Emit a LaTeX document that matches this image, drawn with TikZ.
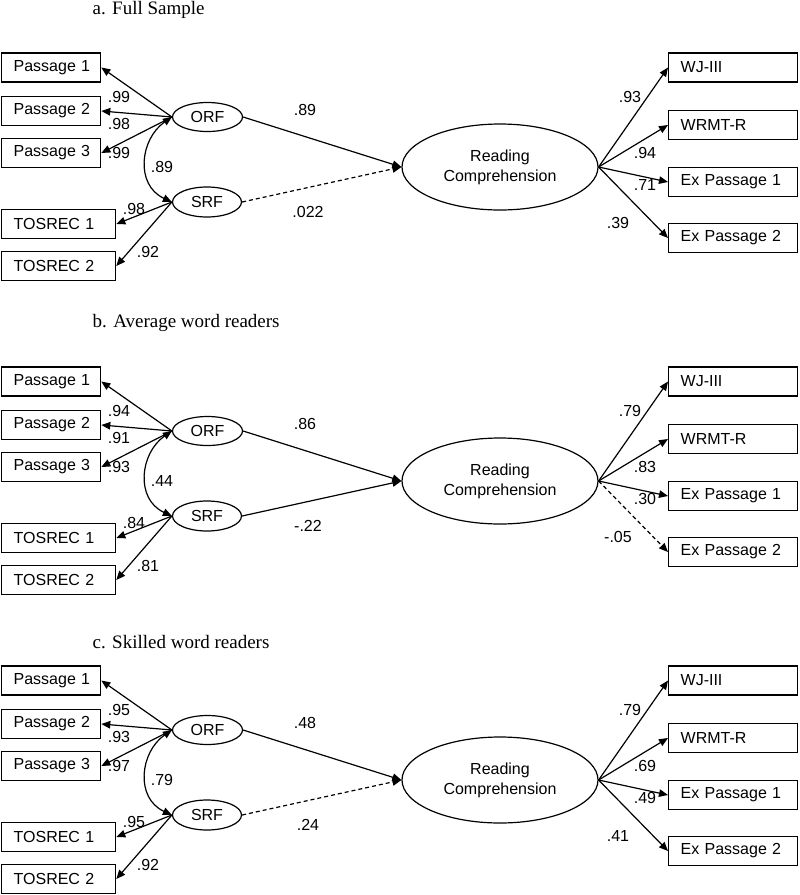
\documentclass[tikz,border=0pt]{standalone}
\usepackage{fontspec}
\setmainfont{Liberation Sans}
\newfontfamily\titlefont{Liberation Serif}
\usetikzlibrary{arrows.meta,shapes.geometric}

\newcommand\panelnodes[1]{%
  \node[box=79pt] (#1P1) at (1,67.5) {Passage 1};
  \node[box=79pt] (#1P2) at (1,111) {Passage 2};
  \node[box=79pt] (#1P3) at (1,153) {Passage 3};
  \node[box=94pt] (#1T1) at (1,224) {TOSREC 1};
  \node[box=94pt] (#1T2) at (1,266) {TOSREC 2};
  \node[latent, minimum width=70pt, minimum height=29pt] (#1ORF) at (207.5,117) {ORF};
  \node[latent, minimum width=69pt, minimum height=30pt] (#1SRF) at (207,202) {SRF};
  \node[latent, minimum width=196pt, minimum height=86pt, align=center] (#1RC) at (500,167) {Reading\\Comprehension};
  \node[box=109pt] (#1W1) at (668,67.5) {WJ-III};
  \node[box=109pt] (#1W2) at (668,125) {WRMT-R};
  \node[box=109pt] (#1E1) at (668,182) {Ex Passage 1};
  \node[box=109pt] (#1E2) at (668,238) {Ex Passage 2};
}

\newcommand\panelleft[9]{%
  \draw[conn] (#1ORF.west) -- (#1P1.east);
  \draw[conn] (#1ORF.west) -- (#1P2.east);
  \draw[conn] (#1ORF.west) -- (#1P3.east);
  \draw[conn] (#1SRF.west) -- (#1T1.east);
  \draw[conn] (#1SRF.west) -- (#1T2.east);
  \draw[corr] (#1ORF.west) .. controls +(-32,22) and +(-37,-17) .. (#1SRF.west);
  \draw[conn] (#1ORF.east) -- (#1RC.west);
  \draw[conn,#9] (#1SRF.east) -- (#1RC.west);
  \node[lab] (#1l1) at (119,97) {#2};
  \node[lab] (#1l2) at (119,124) {#3};
  \node[lab] (#1l3) at (119,153) {#4};
  \node[lab] (#1lc) at (162,167) {#5};
  \node[lab] (#1l4) at (134,209) {#6};
  \node[lab] (#1l5) at (148,252) {#7};
  \node[lab] (#1lo) at (305,110) {#8};
}

\newcommand\panelright[7]{%
  \draw[conn] (#1RC.east) -- (#1W1.west);
  \draw[conn] (#1RC.east) -- (#1W2.west);
  \draw[conn] (#1RC.east) -- (#1E1.west);
  \draw[conn,#6] (#1RC.east) -- (#1E2.west);
  \node[lab] (#1r1) at (630,97) {#2};
  \node[lab] (#1r2) at (645,153) {#3};
  \node[lab] (#1r3) at (645,185) {#4};
  \node[lab] (#1r4) at (618,223) {#5};
  \node[lab] (#1ls) at (308,212) {#7};
}

\begin{document}
\begin{tikzpicture}[x=1pt,y=-1pt,
  every node/.style={font=\fontsize{16}{20}\selectfont},
  box/.style={draw, line width=1.3pt, minimum height=29pt, inner xsep=10pt, inner ysep=0pt,
              text width=#1, align=left, anchor=west, execute at begin node={\hspace*{2pt}}},
  latent/.style={draw, ellipse, line width=1.2pt, inner sep=0pt},
  lab/.style={inner sep=0pt},
  conn/.style={line width=1.2pt, -{Triangle[length=9pt,width=7.5pt]}},
  corr/.style={line width=1.2pt, {Triangle[length=9pt,width=7.5pt]}-{Triangle[length=9pt,width=7.5pt]}},
  dsh/.style={dash pattern=on 4pt off 3pt},
  title/.style={font=\titlefont\fontsize{19}{23}\selectfont, anchor=base west, inner sep=0pt}
]
\useasboundingbox (0,0) rectangle (800,895);

% Panel a
\node[title] (ta) at (92.5,14.5) {a. Full Sample};
\panelnodes{a}
\panelleft{a}{.99}{.98}{.99}{.89}{.98}{.92}{.89}{dsh}
\panelright{a}{.93}{.94}{.71}{.39}{solid}{.022}

% Panel b
\node[title] (tb) at (92.5,327) {b. Average word readers};
\begin{scope}[yshift=-314pt]
\panelnodes{b}
\panelleft{b}{.94}{.91}{.93}{.44}{.84}{.81}{.86}{solid}
\panelright{b}{.79}{.83}{.30}{-.05}{dsh}{-.22}
\end{scope}

% Panel c
\node[title] (tc) at (92.5,648) {c. Skilled word readers};
\begin{scope}[yshift=-613pt]
\panelnodes{c}
\panelleft{c}{.95}{.93}{.97}{.79}{.95}{.92}{.48}{dsh}
\panelright{c}{.79}{.69}{.49}{.41}{solid}{.24}
\end{scope}
\end{tikzpicture}
\end{document}
